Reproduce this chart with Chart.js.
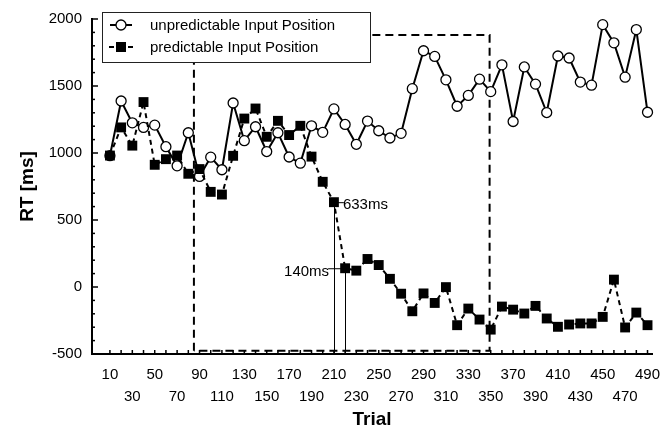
<!DOCTYPE html>
<html>
<head>
<meta charset="utf-8">
<script src="https://cdn.jsdelivr.net/npm/chart.js@4.4.0/dist/chart.umd.min.js"></script>
<style>
  html, body { margin: 0; padding: 0; background: #fff; }
</style>
</head>
<body>
<canvas id="rtChart" width="672" height="433"></canvas>
<script>
// trial numbers (one point every 10 trials)
var trials = [10, 20, 30, 40, 50, 60, 70, 80, 90, 100, 110, 120, 130, 140, 150, 160, 170, 180, 190, 200,
  210, 220, 230, 240, 250, 260, 270, 280, 290, 300, 310, 320, 330, 340, 350, 360, 370, 380, 390, 400,
  410, 420, 430, 440, 450, 460, 470, 480, 490];

// RT in ms
var unpredictableRT = [980, 1388, 1225, 1191, 1208, 1047, 904, 1151, 825, 969, 875, 1373, 1092, 1196, 1011, 1151, 970, 924, 1203, 1154,
  1329, 1213, 1065, 1238, 1166, 1112, 1147, 1480, 1763, 1721, 1546, 1349, 1430, 1551, 1458, 1658, 1235, 1642, 1514, 1302,
  1724, 1709, 1529, 1506, 1958, 1822, 1566, 1921, 1304];
var predictableRT = [981, 1191, 1055, 1380, 912, 954, 981, 845, 880, 710, 690, 979, 1257, 1332, 1121, 1240, 1134, 1203, 973, 785,
  633, 140, 122, 209, 164, 61, -50, -181, -48, -119, -1, -285, -161, -243, -318, -146, -169, -198, -141, -235,
  -297, -280, -272, -272, -223, 55, -302, -191, -285];

// labelled x ticks: first row and second row
var xLabelsRow1 = [10, 50, 90, 130, 170, 210, 250, 290, 330, 370, 410, 450, 490];
var xLabelsRow2 = [30, 70, 110, 150, 190, 230, 270, 310, 350, 390, 430, 470];
var yMin = -500, yMax = 2000, yStep = 500, yMinorStep = 100;

// predictable block (trials) and marked RTs
var blockTrials = [85, 349];
var blockRT = [-475, 1880];
var markTrials = [210, 220];
var markRT = [633, 140];
var markText = ['633ms', '140ms'];

var legendNames = ['unpredictable Input Position', 'predictable Input Position'];

var FONT = "'Liberation Sans', Arial, Helvetica, sans-serif";

var overlay = {
  id: 'overlay',
  beforeDatasetsDraw: function(chart) {
    var ctx = chart.ctx, xs = chart.scales.x, ys = chart.scales.y;
    ctx.save();
    ctx.strokeStyle = '#000';
    ctx.lineWidth = 2;
    ctx.setLineDash([8, 5]);
    var x0 = xs.getPixelForValue(blockTrials[0]), x1 = xs.getPixelForValue(blockTrials[1]);
    var y0 = ys.getPixelForValue(blockRT[0]), y1 = ys.getPixelForValue(blockRT[1]);
    ctx.beginPath();
    ctx.moveTo(x0, y0); ctx.lineTo(x0, y1); ctx.lineTo(x1, y1); ctx.lineTo(x1, y0); ctx.lineTo(x0, y0);
    ctx.stroke();
    ctx.setLineDash([]);
    // vertical marks
    ctx.lineWidth = 1;
    var bottom = chart.chartArea.bottom;
    for (var i = 0; i < markTrials.length; i++) {
      var px = Math.round(xs.getPixelForValue(markTrials[i])) + 0.5;
      ctx.beginPath();
      ctx.moveTo(px, ys.getPixelForValue(markRT[i]));
      ctx.lineTo(px, bottom);
      ctx.stroke();
    }
    ctx.restore();
  },
  afterDatasetsDraw: function(chart) {
    var ctx = chart.ctx, xs = chart.scales.x, ys = chart.scales.y, area = chart.chartArea;
    ctx.save();
    ctx.strokeStyle = '#000';
    ctx.fillStyle = '#000';

    // mark labels
    ctx.lineWidth = 1;
    ctx.font = '15px ' + FONT;
    ctx.textBaseline = 'middle';
    var mx = xs.getPixelForValue(markTrials[0]), my = ys.getPixelForValue(markRT[0]);
    ctx.beginPath(); ctx.moveTo(mx + 4, my + 0.5); ctx.lineTo(mx + 10, my + 0.5); ctx.stroke();
    ctx.textAlign = 'left';
    ctx.fillText(markText[0], mx + 9, my + 3);
    mx = xs.getPixelForValue(markTrials[1]); my = ys.getPixelForValue(markRT[1]);
    ctx.beginPath(); ctx.moveTo(mx - 17, my + 0.5); ctx.lineTo(mx - 4, my + 0.5); ctx.stroke();
    ctx.textAlign = 'right';
    ctx.fillText(markText[1], mx - 16, my + 4);

    // inward tick marks
    ctx.lineWidth = 1.5;
    trials.forEach(function(t) {
      var px = xs.getPixelForValue(t);
      ctx.beginPath(); ctx.moveTo(px, area.bottom); ctx.lineTo(px, area.bottom - 4); ctx.stroke();
    });
    for (var v = yMin; v <= yMax; v += yMinorStep) {
      var py = ys.getPixelForValue(v);
      var len = (v % yStep === 0) ? 6 : 3;
      ctx.beginPath(); ctx.moveTo(area.left, py); ctx.lineTo(area.left + len, py); ctx.stroke();
    }

    // legend box
    var lx = 102, ly = 12, lw = 268, lh = 50;
    ctx.fillStyle = '#fff';
    ctx.fillRect(lx, ly, lw, lh);
    ctx.lineWidth = 1;
    ctx.strokeStyle = '#222';
    ctx.strokeRect(lx + 0.5, ly + 0.5, lw, lh);
    ctx.strokeStyle = '#000';
    ctx.fillStyle = '#000';
    var r1 = ly + 13, r2 = ly + 35, cx = lx + 19;
    ctx.lineWidth = 2;
    ctx.beginPath(); ctx.moveTo(lx + 8, r1); ctx.lineTo(lx + 30, r1); ctx.stroke();
    ctx.beginPath(); ctx.arc(cx, r1, 5, 0, Math.PI * 2);
    ctx.fillStyle = '#fff'; ctx.fill();
    ctx.lineWidth = 1.3; ctx.stroke();
    ctx.fillStyle = '#000';
    ctx.lineWidth = 2;
    ctx.beginPath(); ctx.moveTo(lx + 7, r2); ctx.lineTo(lx + 12, r2); ctx.stroke();
    ctx.beginPath(); ctx.moveTo(lx + 26, r2); ctx.lineTo(lx + 31, r2); ctx.stroke();
    ctx.fillRect(cx - 5, r2 - 5, 10, 10);
    ctx.font = '15px ' + FONT;
    ctx.textAlign = 'left';
    ctx.textBaseline = 'middle';
    ctx.fillText(legendNames[0], lx + 48, r1 + 1);
    ctx.fillText(legendNames[1], lx + 48, r2 + 1);
    ctx.restore();
  }
};

var ctx = document.getElementById('rtChart').getContext('2d');
var rtChart = new Chart(ctx, {
  type: 'line',
  data: {
    datasets: [{
      label: legendNames[0],
      data: trials.map(function(t, i) { return { x: t, y: unpredictableRT[i] }; }),
      borderColor: '#000',
      borderWidth: 2,
      pointStyle: 'circle',
      pointRadius: 5,
      pointBackgroundColor: '#fff',
      pointBorderColor: '#000',
      pointBorderWidth: 1.3,
      tension: 0,
      clip: false,
      order: 1
    }, {
      label: legendNames[1],
      data: trials.map(function(t, i) { return { x: t, y: predictableRT[i] }; }),
      borderColor: '#000',
      borderWidth: 2,
      borderDash: [5, 4],
      pointStyle: 'rect',
      pointRadius: 7,
      pointBackgroundColor: '#000',
      pointBorderColor: '#000',
      pointBorderWidth: 0,
      tension: 0,
      clip: false,
      order: 0
    }]
  },
  options: {
    responsive: false,
    animation: false,
    devicePixelRatio: 1,
    layout: { padding: { top: 17, right: 20, left: 0, bottom: 0 } },
    plugins: { legend: { display: false }, tooltip: { enabled: false } },
    scales: {
      x: {
        type: 'linear',
        min: -6,
        max: 494,
        afterFit: function(scale) { scale.height = 79; },
        afterBuildTicks: function(scale) {
          scale.ticks = trials.map(function(t) { return { value: t }; });
        },
        grid: { display: true, drawOnChartArea: false, drawTicks: false },
        border: { display: true, color: '#000', width: 2 },
        ticks: {
          autoSkip: false,
          maxRotation: 0,
          minRotation: 0,
          padding: 10,
          color: '#000',
          font: { family: FONT, size: 15, lineHeight: 1.467 },
          callback: function(value) {
            if (xLabelsRow1.indexOf(value) >= 0) return String(value);
            if (xLabelsRow2.indexOf(value) >= 0) return ['', String(value)];
            return '';
          }
        },
        title: {
          display: true,
          text: 'Trial',
          color: '#000',
          font: { family: FONT, size: 19, weight: 'bold' },
          padding: { top: 0, bottom: 2 }
        }
      },
      y: {
        min: yMin,
        max: yMax,
        afterFit: function(scale) { scale.width = 92; },
        grid: { display: true, drawOnChartArea: false, drawTicks: false },
        border: { display: true, color: '#000', width: 2 },
        ticks: {
          stepSize: yStep,
          padding: 10,
          color: '#000',
          font: { family: FONT, size: 15 },
          callback: function(value) { return String(value); }
        },
        title: {
          display: true,
          text: 'RT [ms]',
          color: '#000',
          font: { family: FONT, size: 19, weight: 'bold' },
          padding: { top: 16, bottom: 0 }
        }
      }
    }
  },
  plugins: [overlay]
});
</script>
</body>
</html>
